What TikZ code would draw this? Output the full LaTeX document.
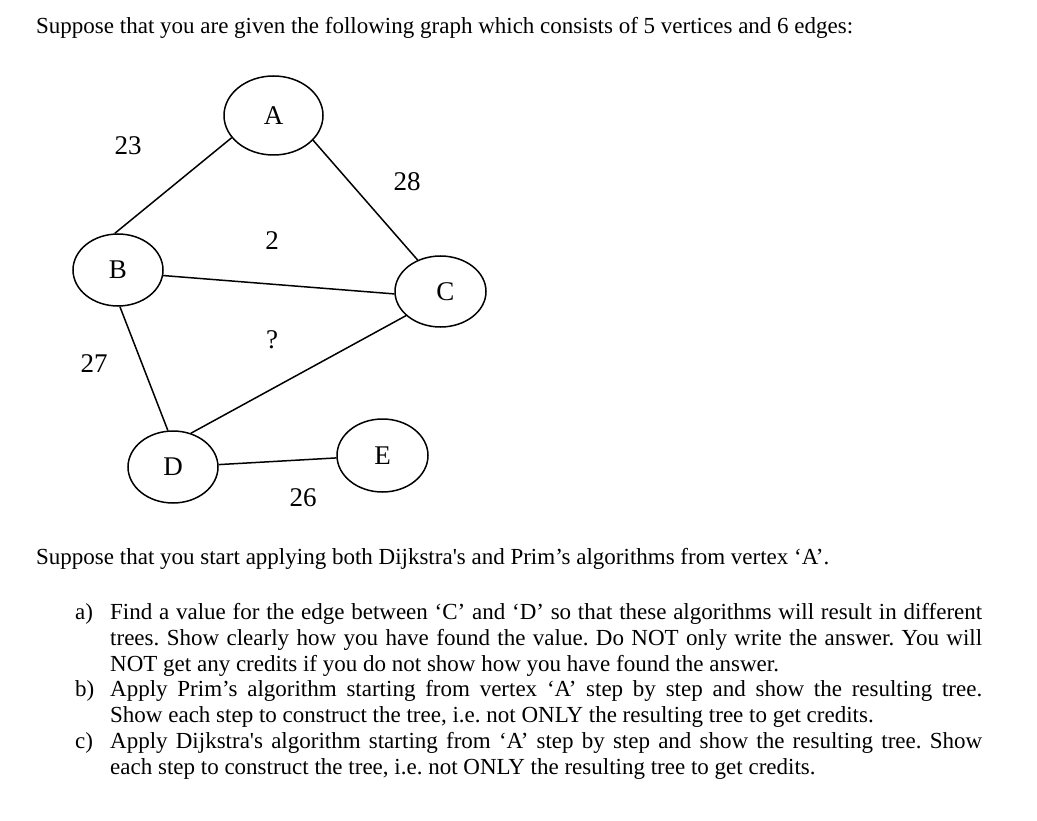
\documentclass[tikz,border=0pt]{standalone}
\usepackage{fontspec}
\setmainfont{Liberation Serif}[Ligatures=TeXOff]
\usetikzlibrary{shapes.geometric}
\frenchspacing
\begin{document}
\begin{tikzpicture}[x=1pt,y=-1pt,
  vert/.style={draw, ellipse, line width=1.5pt, inner sep=0pt, font=\fontsize{27}{30}\selectfont},
  edge/.style={line width=1.5pt},
  wlabel/.style={inner sep=0pt, font=\fontsize{27}{30}\selectfont},
  body/.style={anchor=base west, inner sep=0pt, font=\frenchspacing\fontsize{23}{26}\selectfont}]
\useasboundingbox[fill=white] (0,0) rectangle (1037,821);

% vertices
\node[vert, minimum width=99pt, minimum height=79pt] (A) at (273.5,115.5) {A};
\node[vert, minimum width=90pt, minimum height=72pt] (B) at (118,270) {B};
\node[vert, minimum width=91pt, minimum height=71pt] (C) at (440.5,291.5) {\hspace*{10pt}C};
\node[vert, minimum width=90pt, minimum height=72pt] (D) at (173,467) {D};
\node[vert, minimum width=91pt, minimum height=73pt] (E) at (382.5,455.5) {E};

% edges
\draw[edge] (A.208.5) -- (B.95);
\draw[edge] (A.328) -- (C.126);
\draw[edge] (B.353) -- (C.183.5);
\draw[edge] (B.273) -- (D.98);
\draw[edge] (C.215.7) -- (D.62.8);
\draw[edge] (D.3.7) -- (E.183);

% weights
\node[wlabel] (w23) at (128,146) {23};
\node[wlabel] (w28) at (407,182) {28};
\node[wlabel] (w2) at (272,241) {2};
\node[wlabel] (wq) at (272,340) {?};
\node[wlabel] (w27) at (94,364) {27};
\node[wlabel] (w26) at (303,498) {26};

% text
\node[body] (t1) at (36,34) {Suppose that you are given the following graph which consists of 5 vertices and 6 edges:};
\node[body] (t2) at (36,564) {Suppose that you start applying both Dijkstra's and Prim’s algorithms from vertex ‘A’.};

\node[body] (la) at (75,619) {a)};
\node[body] (a1) at (110,619) {\makebox[872pt][s]{Find a value for the edge between ‘C’ and ‘D’ so that these algorithms will result in different}};
\node[body] (a2) at (110,645) {\makebox[872pt][s]{trees. Show clearly how you have found the value. Do NOT only write the answer. You will}};
\node[body] (a3) at (110,671) {NOT get any credits if you do not show how you have found the answer.};

\node[body] (lb) at (75,696) {b)};
\node[body] (b1) at (110,696) {\makebox[872pt][s]{Apply Prim’s algorithm starting from vertex ‘A’ step by step and show the resulting tree.}};
\node[body] (b2) at (110,722) {Show each step to construct the tree, i.e. not ONLY the resulting tree to get credits.};

\node[body] (lc) at (75,748) {c)};
\node[body] (c1) at (110,748) {\makebox[872pt][s]{Apply Dijkstra's algorithm starting from ‘A’ step by step and show the resulting tree. Show}};
\node[body] (c2) at (110,774) {each step to construct the tree, i.e. not ONLY the resulting tree to get credits.};
\end{tikzpicture}
\end{document}
